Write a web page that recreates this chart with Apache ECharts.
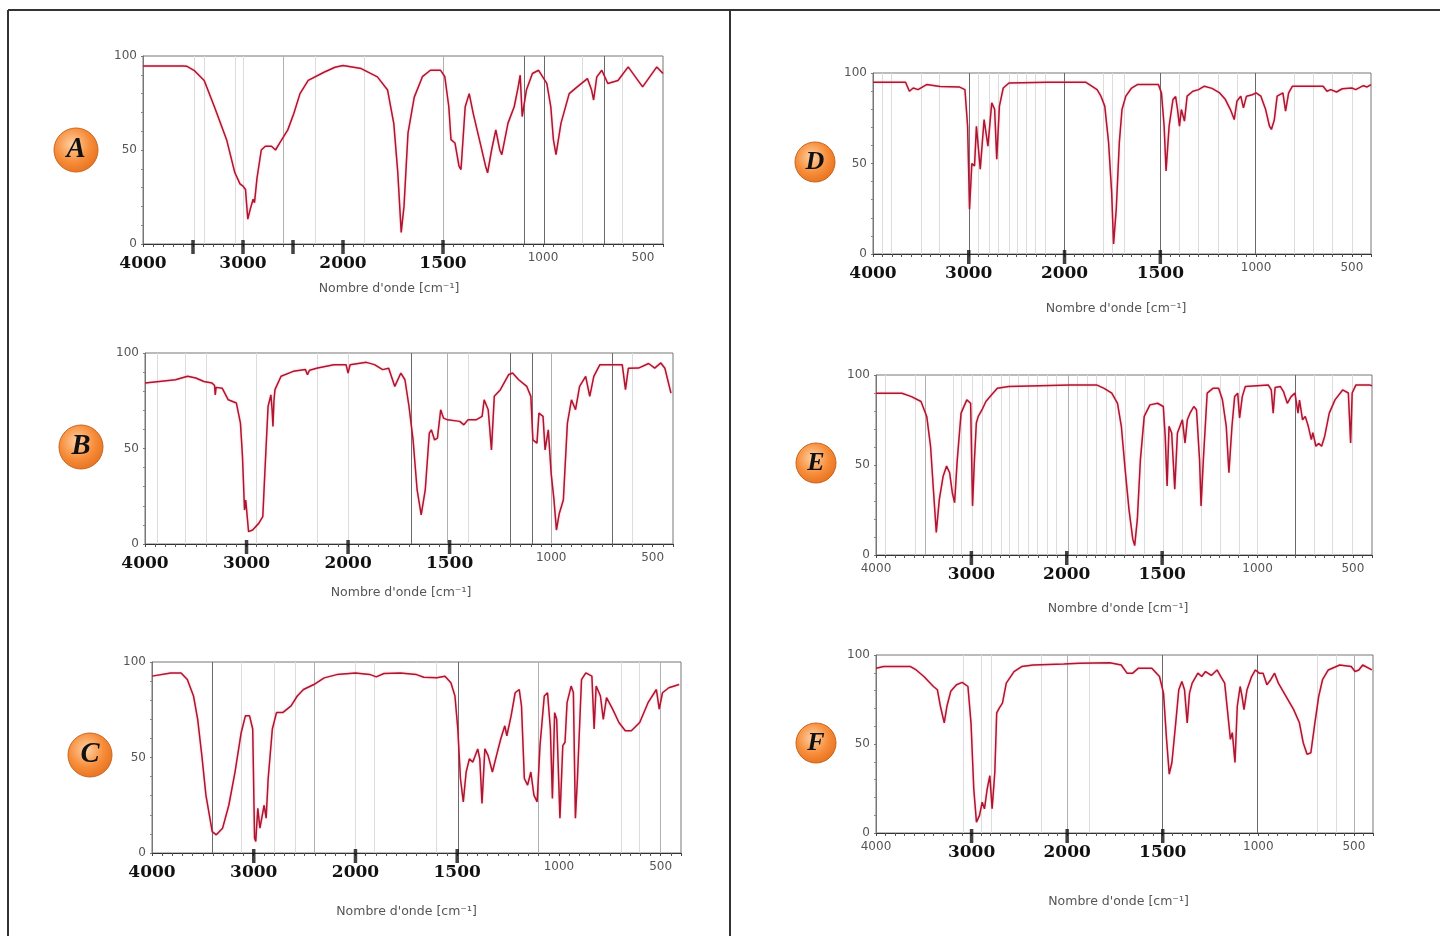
<!DOCTYPE html>
<html><head><meta charset="utf-8">
<script src="https://cdn.jsdelivr.net/npm/echarts@6/dist/echarts.min.js"></script>
<style>html,body{margin:0;padding:0;background:#fff}#c{width:1445px;height:936px}</style>
</head><body><div id="c"></div>
<script>
// ---------------- DATA ----------------
const xTickLabels = [4000, 3000, 2000, 1500, 1000, 500];
const yTickLabels = [0, 50, 100];
const axisTitle = "Nombre d'onde [cm\u207B\u00B9]";
const panelLetters = ['A', 'B', 'C', 'D', 'E', 'F'];

// spectrum A
const wnA = [4000,3600,3560,3490,3388,3286,3164,3082,3030,3000,2975,2952,2930,2899,2885,2860,2817,2777,2715,2675,2634,2552,2491,2430,2348,2185,2080,2000,1909,1828,1777,1746,1726,1709,1695,1675,1644,1603,1563,1512,1491,1471,1460,1440,1420,1410,1389,1369,1349,1318,1287,1277,1257,1236,1216,1206,1175,1144,1124,1114,1104,1083,1053,1022,981,961,948,935,910,869,829,778,757,747,731,706,676,625,574,502,431,400];
const tA = [94.7,94.7,94.5,92.4,87,73,55.5,38,32,30.8,29,13.2,18,23.8,22,35,50,52,52,50,53.7,60.7,69.5,80,87,91.5,94,95,93.3,88.9,81.9,64,37.9,6.2,20,59,78,89,92.4,92.4,89,73,55.5,53.7,41.4,39.6,73,80,69.5,55.5,41.4,37.9,50,60.7,50,47.5,64.3,73,83.6,89.8,67.8,81.9,90.7,92.4,85.4,73,55.5,47.5,64.3,80,83.6,88,81.9,76.6,88.9,92.4,85.4,87,94.2,83.6,94.2,90.7];

// spectrum B
const wnB = [4000,3860,3700,3580,3500,3420,3340,3315,3308,3300,3240,3180,3100,3060,3040,3020,3008,2980,2940,2880,2840,2820,2788,2760,2748,2740,2730,2720,2660,2540,2420,2400,2380,2300,2140,2020,2000,1990,1910,1870,1830,1800,1770,1740,1720,1700,1680,1660,1640,1620,1600,1590,1574,1560,1544,1530,1510,1450,1430,1410,1370,1340,1330,1310,1294,1280,1250,1210,1190,1160,1120,1100,1090,1070,1060,1040,1030,1014,1000,986,974,960,940,920,900,880,860,830,810,790,760,710,650,634,620,570,520,490,460,440,410];
const tB = [84.3,85.1,86,87.8,86.9,85.1,84.3,83,78,82,81.6,75.5,73.8,63.3,45.8,17.8,23,6.5,7.3,10.8,14.3,37,72,78.1,70,61.5,75,80.8,87.8,90.4,91.3,88.6,91,92.1,93.9,93.9,89.5,93.9,95.1,93.9,91.3,92,82.5,89.5,86,72,54.5,28.3,15.2,28.3,58,59.8,54.5,55.4,70.3,65.9,65,64.2,62.4,65,65,66.8,75.5,70.3,49.3,77.3,80.8,88.6,89.5,86,82.5,77.3,54.5,52.8,68.5,66.8,49.3,59.8,37,23,7.3,16,23,63.3,75.5,70.3,82.5,87.8,77.3,87.8,93.9,93.9,93.9,80.8,92,92.1,94.5,92.1,94.8,92,79];

// spectrum C
const wnC = [4000,3816,3714,3653,3592,3551,3510,3470,3408,3368,3306,3245,3184,3123,3082,3041,3010,2992,2980,2960,2939,2898,2878,2858,2817,2776,2715,2633,2572,2511,2409,2307,2184,2000,1930,1898,1860,1780,1700,1664,1600,1560,1531,1511,1497,1484,1470,1456,1440,1423,1399,1389,1378,1364,1348,1327,1307,1286,1266,1256,1235,1215,1195,1184,1170,1154,1138,1123,1107,1093,1072,1056,1042,1032,1021,1011,995,981,970,960,940,929,919,909,889,868,838,827,817,796,782,766,736,705,674,644,603,562,521,507,491,460,409];
const tC = [92.6,94.3,94.3,90.8,82.2,70,51,30.3,11.2,9.5,13,25,42.4,63.1,71.8,71.8,64.9,7.8,6,23.4,13,25,18.2,39,64.9,73.5,73.5,77,82.2,85.6,88.2,91.7,93.4,94.3,93.5,92.2,94,94.3,93.4,92,91.7,92.5,89.1,82.2,64.9,39,26.8,42.4,49.3,47.6,54.5,49.3,26,54.5,51,42.4,51,59.7,66.6,61.4,71.8,83.9,85.6,77,39,35.5,42.4,30.3,26.8,56.2,82.2,83.9,64.9,28.5,73.5,70,18.2,56.2,58,78.7,87.4,84,18.2,39,90.8,94.3,92.6,64.9,87.4,82.2,70,81.3,75.3,68.3,64,64,68.3,78.7,85.6,75.3,83.9,86.5,88.2];

// spectrum D
const wnD = [4000,3660,3620,3580,3530,3440,3300,3100,3040,3012,2992,2968,2940,2920,2880,2840,2800,2760,2730,2708,2680,2640,2580,2180,1890,1830,1810,1790,1770,1754,1744,1730,1714,1700,1680,1650,1620,1510,1494,1480,1470,1454,1434,1420,1410,1400,1390,1374,1360,1330,1300,1270,1230,1190,1160,1134,1114,1100,1080,1066,1050,1020,1000,975,950,930,920,905,890,860,846,830,810,650,630,610,580,550,500,480,440,420,400];
const tD = [94.9,94.9,89.9,91.7,90.8,93.6,92.5,92.3,90.8,70.6,24.8,50,48.6,70.6,46.8,74.3,59.6,83.5,80,52.3,81.7,91.7,94.5,94.9,94.9,90.8,87.2,81.7,61.5,33.9,5.5,24.8,61.5,79.8,87.2,91.7,93.6,93.6,89,70.6,45.9,70.6,85.3,87,79.8,70.6,79.8,73.4,87.2,89.9,90.8,92.7,91.5,89,85.3,79.8,74.3,84.4,87.2,80.7,87.2,88,89,87.2,79.8,70.6,68.8,74,87.2,89,78.9,89,92.7,92.7,89.9,90.8,89.5,91.3,91.7,90.8,93,92.3,93.6];

// spectrum E
const wnE = [4000,3728,3628,3528,3468,3428,3396,3368,3336,3296,3260,3228,3200,3176,3148,3108,3048,3008,2988,2968,2948,2928,2908,2888,2848,2828,2788,2728,2608,1984,1844,1804,1764,1734,1714,1694,1674,1654,1644,1630,1614,1594,1564,1524,1494,1484,1474,1464,1450,1434,1420,1394,1380,1368,1354,1334,1320,1304,1296,1284,1264,1234,1204,1184,1164,1150,1134,1120,1104,1094,1080,1064,944,928,918,908,880,864,844,824,804,788,780,764,750,734,718,710,694,680,664,648,624,594,554,524,512,504,484,414,400];
const tE = [89.9,89.9,88,85.3,77,60.4,34.6,12.5,30.9,43.8,49.4,45.7,34.6,29.1,53,78.8,86.2,84.3,27.3,53,73.3,77,76,80.7,85.3,84.5,89,92.6,93.6,94.5,94.5,92.6,89.9,84.3,71.5,47.5,25.4,8.8,5.2,19.9,53,77,83.4,84.3,82.5,65.9,38.3,71.5,67.8,36.5,67.8,75.1,62.2,75.1,78.8,82.5,80.7,53,27.3,53,89.9,92.6,92.6,86.2,71.5,45.7,71.5,88,89.9,76.1,88,93.6,94.5,91.7,78.8,93,93.6,90.8,84.3,88,89.9,78.8,86,75.1,77,71.5,64.1,68,60.4,62,60.4,66,78.8,86.2,91.7,90,62.2,90,94.5,94.5,94];

// spectrum F
const wnF = [4000,3920,3639,3579,3499,3399,3358,3326,3286,3258,3218,3158,3098,3038,3006,2977,2949,2917,2889,2865,2837,2809,2785,2757,2737,2709,2677,2637,2556,2476,2356,2035,1937,1777,1717,1687,1657,1627,1557,1517,1496,1480,1466,1452,1432,1416,1400,1386,1372,1360,1346,1316,1296,1276,1246,1216,1196,1176,1160,1146,1136,1122,1110,1095,1085,1075,1059,1035,1015,995,975,955,935,915,895,855,815,785,765,745,725,704,684,664,634,574,514,494,474,454,406];
const tF = [92.6,93.5,93.5,91.6,87.9,82.3,80.5,71.2,61.9,71.2,79.6,83.3,84.6,82.3,61.9,24.7,6.1,9.9,17.3,13.6,24.7,32.2,13.6,34,67.5,70.3,73,84.2,90.7,93.5,94.4,94.9,95.4,95.7,94.4,89.8,89.8,92.6,92.6,87.9,78.6,52.6,33.1,39.6,61.9,80.5,85.1,80.5,61.9,78.6,84.2,89.8,87.9,90.7,88.5,91.6,87.9,84.2,67.5,52.6,56.4,39.6,71.2,82.3,76.8,69.3,80.5,87.9,91.6,89.8,89.8,83.3,86.1,89.8,84.2,76.8,69.3,61.9,50.7,44.2,45.1,61.9,76.8,86.1,91.6,94.4,93.5,90.7,91.6,94.4,91.6];

// reference (peak-marker) lines, in cm-1
const linesLightA = [3490,3388,3082,3000,2275,1895,802,604];
const linesMidA = [2601,1500];
const linesDarkA = [1093,995,696];
const linesLightB = [3880,3600,3400,2900,2300,2000,1410,600];
const linesMidB = [1510,1000];
const linesDarkB = [1690,1200,1094,700];
const linesLightC = [3123,2796,2592,2000,1909,1603,695,603];
const linesMidC = [2409,1103,501];
const linesDarkC = [3408,1497];
const linesLightD = [3900,3808,3500,3308,2900,2788,2692,2580,2492,2400,2308,2200,1800,1750,1690,1400,1300,1200,1100,800,700,600,500];
const linesMidD = [];
const linesDarkD = [2992,2000,1500,1004];
const linesLightE = [3908,3588,3188,3108,2988,2888,2788,2688,2608,2508,2408,2308,2208,2108,1944,1894,1844,1794,1744,1694,1594,1494,1394,1294,1194,1094,1004,704,608,504];
const linesMidE = [3488,1990];
const linesDarkE = [804];
const linesLightF = [3086,2897,2789,2276,1887,694,594];
const linesMidF = [1998,500];
const linesDarkF = [1502,1005];

// hand-drawn bold tick marks (cm-1)
const boldTicksA = [3500,3000,2500,2000,1500];
const boldTicksB = [3000,2000,1500];
const boldTicksC = [3000,2000,1500];
const boldTicksD = [3000,2000,1500];
const boldTicksE = [3000,2000,1500];
const boldTicksF = [3000,2000,1500];

// tick labels drawn large (the others are small)
const bigLabelsA = [4000,3000,2000,1500];
const bigLabelsB = [4000,3000,2000,1500];
const bigLabelsC = [4000,3000,2000,1500];
const bigLabelsD = [4000,3000,2000,1500];
const bigLabelsE = [3000,2000,1500];
const bigLabelsF = [3000,2000,1500];

// ---------------- SCALE (IR chart: x2 expansion below 2000 cm-1) ----------------
function toU(w){ return w >= 2000 ? 4000 - w : 2000 + 2 * (2000 - w); }
function fromU(u){ return u <= 2000 ? 4000 - u : 2000 - (u - 2000) / 2; }

// ---------------- LAYOUT ----------------
const panels = [
  {wn:wnA,t:tA,light:linesLightA,mid:linesMidA,dark:linesDarkA,bold:boldTicksA,big:bigLabelsA,
   grid:{left:143,top:56,width:520,height:188},badge:[76,150,22],nameGap:38,namePad:[0,28,0,0]},
  {wn:wnB,t:tB,light:linesLightB,mid:linesMidB,dark:linesDarkB,bold:boldTicksB,big:bigLabelsB,
   grid:{left:145,top:353,width:528,height:191},badge:[81,447,22],nameGap:42,namePad:[0,16,0,0]},
  {wn:wnC,t:tC,light:linesLightC,mid:linesMidC,dark:linesDarkC,bold:boldTicksC,big:bigLabelsC,
   grid:{left:152,top:662,width:529,height:191},badge:[90,755,22],nameGap:52,namePad:[0,20,0,0]},
  {wn:wnD,t:tD,light:linesLightD,mid:linesMidD,dark:linesDarkD,bold:boldTicksD,big:bigLabelsD,
   grid:{left:873,top:73,width:498,height:181},badge:[815,162,20],nameGap:48,namePad:[0,12,0,0]},
  {wn:wnE,t:tE,light:linesLightE,mid:linesMidE,dark:linesDarkE,bold:boldTicksE,big:bigLabelsE,
   grid:{left:876,top:375,width:496,height:180},badge:[816,463,20],nameGap:47,namePad:[0,12,0,0]},
  {wn:wnF,t:tF,light:linesLightF,mid:linesMidF,dark:linesDarkF,bold:boldTicksF,big:bigLabelsF,
   grid:{left:876,top:655,width:497,height:178},badge:[816,743,20],nameGap:62,namePad:[0,12,0,0]}
];

const grids = [], xAxes = [], yAxes = [], series = [], graphics = [];

panels.forEach((p, i) => {
  grids.push(Object.assign({show:true, borderColor:'#777', borderWidth:1, containLabel:false}, p.grid));
  xAxes.push({
    type:'value', gridIndex:i, min:0, max:toU(400), interval:1000,
    name:axisTitle, nameLocation:'middle', nameGap:p.nameGap,
    nameTextStyle:{fontFamily:'DejaVu Sans', fontSize:12.5, color:'#555', padding:p.namePad},
    axisLine:{show:true, lineStyle:{color:'#333', width:1.2}},
    axisTick:{show:true, length:3, lineStyle:{color:'#444'}},
    minorTick:{show:true, splitNumber:10, length:3, lineStyle:{color:'#555'}},
    splitLine:{show:false},
    axisLabel:{
      margin:6, showMaxLabel:false,
      formatter:function(v){
        const w = Math.round(fromU(v));
        if (xTickLabels.indexOf(w) < 0) return '';
        return p.big.indexOf(w) >= 0 ? '{b|' + w + '}' : '{s|' + w + '}';
      },
      rich:{
        b:{fontFamily:'DejaVu Serif', fontWeight:'bold', fontSize:17, color:'#111', padding:[5,0,0,0]},
        s:{fontFamily:'DejaVu Sans', fontSize:12, color:'#555', padding:[2,0,0,0]}
      }
    }
  });
  yAxes.push({
    type:'value', gridIndex:i, min:0, max:100, interval:50,
    axisLine:{show:true, lineStyle:{color:'#777'}},
    axisTick:{show:true, length:2, lineStyle:{color:'#777'}},
    minorTick:{show:true, splitNumber:5, length:2, lineStyle:{color:'#888'}},
    splitLine:{show:false},
    axisLabel:{margin:6, fontFamily:'DejaVu Sans', fontSize:12, color:'#555',
      formatter:function(v){ return yTickLabels.indexOf(v) >= 0 ? String(v) : ''; }}
  });
  const ml = [];
  p.light.forEach(w => ml.push({xAxis:toU(w), lineStyle:{color:'#dcdcdc', width:1, type:'solid'}}));
  p.mid.forEach(w => ml.push({xAxis:toU(w), lineStyle:{color:'#b0b0b0', width:1, type:'solid'}}));
  p.dark.forEach(w => ml.push({xAxis:toU(w), lineStyle:{color:'#6a6a6a', width:1, type:'solid'}}));
  series.push({
    type:'line', xAxisIndex:i, yAxisIndex:i, showSymbol:false, symbol:'none', z:3,
    data:p.wn.map((w, k) => [toU(w), p.t[k]]),
    lineStyle:{color:'#ad1530', width:1.5, shadowColor:'rgba(255,120,140,0.6)', shadowBlur:2},
    markLine:{silent:true, z:1, symbol:['none','none'], label:{show:false}, animation:false, data:ml}
  });
  series.push({
    type:'scatter', xAxisIndex:i, yAxisIndex:i, clip:false, z:6, silent:true,
    symbol:'rect', symbolSize:[3.5,14], symbolOffset:[0,3],
    itemStyle:{color:'#111'},
    data:p.bold.map(w => [toU(w), 0])
  });
  const [cx, cy, r] = p.badge;
  graphics.push({
    type:'circle', shape:{cx:cx, cy:cy, r:r}, z:10,
    style:{fill:{type:'radial', x:0.42, y:0.38, r:0.7,
      colorStops:[{offset:0,color:'#ffd2a6'},{offset:0.55,color:'#f78d3a'},{offset:1,color:'#e36d1a'}]},
      stroke:'#c9661f', lineWidth:1}
  });
  graphics.push({
    type:'text', x:cx, y:cy, z:11,
    style:{text:panelLetters[i], fontFamily:'Liberation Serif', fontStyle:'italic', fontWeight:'bold',
      fontSize:r*1.3, fill:'#111', align:'center', verticalAlign:'middle', textAlign:'center', textVerticalAlign:'middle'}
  });
});

// outer frame and divider
graphics.push({type:'line', shape:{x1:8,y1:10,x2:1440,y2:10}, style:{stroke:'#333', lineWidth:2}});
graphics.push({type:'line', shape:{x1:8,y1:10,x2:8,y2:936}, style:{stroke:'#333', lineWidth:2}});
graphics.push({type:'line', shape:{x1:730,y1:10,x2:730,y2:936}, style:{stroke:'#333', lineWidth:2}});

const chart = echarts.init(document.getElementById('c'), null, {renderer:'canvas'});
chart.setOption({
  animation:false,
  backgroundColor:'#fff',
  grid:grids, xAxis:xAxes, yAxis:yAxes, series:series, graphic:graphics
});
</script>
</body></html>
